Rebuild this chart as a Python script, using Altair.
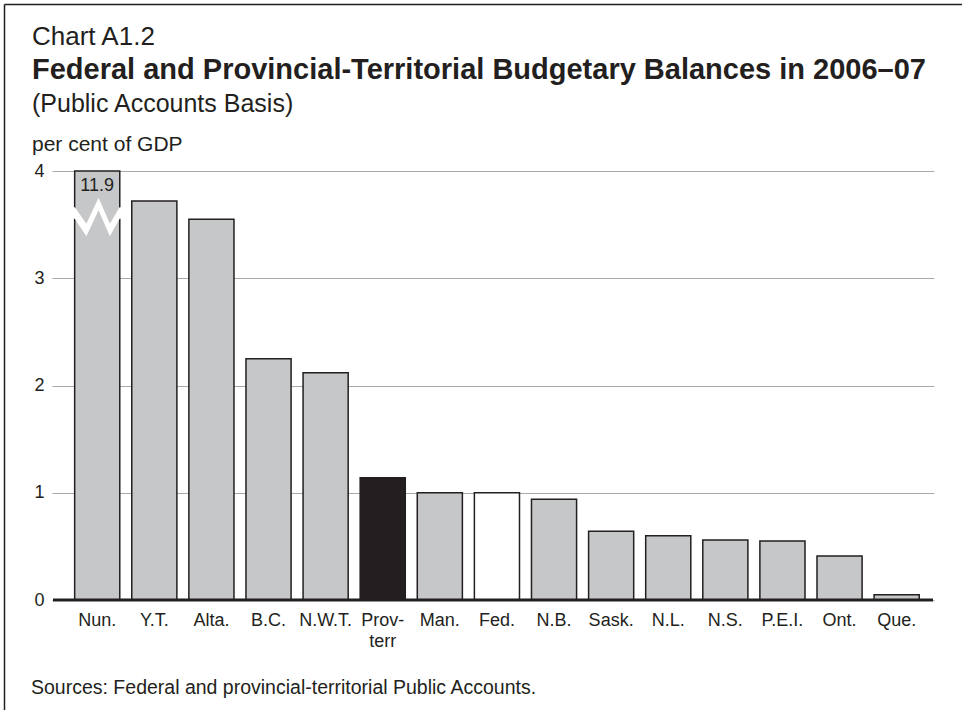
import altair as alt
import pandas as pd

# ---- data ----
categories = ["Nun.", "Y.T.", "Alta.", "B.C.", "N.W.T.", "Prov-terr", "Man.", "Fed.",
              "N.B.", "Sask.", "N.L.", "N.S.", "P.E.I.", "Ont.", "Que."]
balances = [11.9, 3.72, 3.55, 2.25, 2.12, 1.14, 1.00, 1.00, 0.94, 0.64, 0.60, 0.56, 0.55, 0.41, 0.05]
y_ticks = [0, 1, 2, 3, 4]
axis_max = 4
break_at = 3.57

chart_label = "Chart A1.2"
title_text = "Federal and Provincial-Territorial Budgetary Balances in 2006–07"
subtitle_text = "(Public Accounts Basis)"
y_title = "per cent of GDP"
source_text = "Sources: Federal and provincial-territorial Public Accounts."

# ---- style ----
FONT = "Liberation Sans"
INK = "#231f20"
GRAY = "#c6c7c9"
GRID = "#a7a9ac"
W, H = 882, 429
PAD = {"left": 52, "top": 171, "right": 28, "bottom": 110}

ZIG = ("M -1.12 -0.44 L -0.99 -0.44 L -0.48 0.29 L 0.06 -0.86 L 0.56 0.29 L 0.99 -0.44 "
       "L 1.12 -0.44 L 1.12 0.07 L 0.99 0.07 L 0.56 0.85 L 0.06 -0.30 L -0.48 0.85 "
       "L -0.99 0.07 L -1.12 0.07 Z")

df = pd.DataFrame({"cat": categories, "value": balances})
one = pd.DataFrame({"k": [0]})

base = alt.Chart(df).transform_calculate(
    shown=f"min(datum.value, {axis_max})",
    group="datum.cat === 'Prov-terr' ? 'prov' : (datum.cat === 'Fed.' ? 'fed' : 'other')",
)

x = alt.X(
    "cat:N", sort=categories, title=None,
    scale=alt.Scale(paddingInner=0.21, paddingOuter=0.328, align=0.605),
    axis=alt.Axis(labelAngle=0, ticks=False, domain=False, grid=False,
                  labelPadding=11, labelFontSize=18, labelFont=FONT, labelColor=INK,
                  labelLineHeight=21,
                  labelExpr="datum.label == 'Prov-terr' ? ['Prov-', 'terr'] : datum.label"),
)
y = alt.Y(
    "shown:Q", title=None,
    scale=alt.Scale(domain=[0, axis_max], nice=False),
    axis=alt.Axis(values=y_ticks, format="d", grid=True, gridColor=GRID, gridWidth=1.2,
                  domain=False, ticks=False, labelPadding=8, labelFontSize=18,
                  labelFont=FONT, labelColor=INK),
)

bars = base.mark_bar(stroke=INK, strokeWidth=1.5).encode(
    x=x, y=y,
    fill=alt.Fill("group:N",
                  scale=alt.Scale(domain=["other", "prov", "fed"], range=[GRAY, INK, "#ffffff"]),
                  legend=None),
)

brk = base.transform_filter(f"datum.value > {axis_max}").mark_point(
    shape=ZIG, filled=True, fill="white", strokeWidth=0, opacity=1, size=2043
).encode(x=x, y=alt.datum(break_at))

lbl = base.transform_filter(f"datum.value > {axis_max}").mark_text(
    font=FONT, fontSize=18, color=INK, baseline="alphabetic", dy=20
).encode(x=x, y=y, text=alt.Text("value:Q", format=".1f"))

zero = alt.Chart(one).mark_rule(color=INK, strokeWidth=3).encode(
    y=alt.datum(0), x=alt.value(1), x2=alt.value(881)
)


def label(txt, px, py, size, weight="normal"):
    return alt.Chart(pd.DataFrame({"t": [txt]})).mark_text(
        font=FONT, fontSize=size, fontWeight=weight, color=INK,
        align="left", baseline="alphabetic"
    ).encode(text="t:N", x=alt.value(px), y=alt.value(py))


texts = [
    label(chart_label, -20, 44.5 - 171, 26),
    label(title_text, -20, 79 - 171, 29, "bold"),
    label(subtitle_text, -20, 112 - 171, 25),
    label(y_title, -20, 151 - 171, 21),
    label(source_text, -21, 694 - 171, 19.5),
]

frame_top = alt.Chart(one).mark_rule(color=INK, strokeWidth=1.5).encode(
    x=alt.value(-47.5), x2=alt.value(910), y=alt.value(-166.5)
)
frame_left = alt.Chart(one).mark_rule(color=INK, strokeWidth=1.5).encode(
    x=alt.value(-47.5), y=alt.value(-166.5), y2=alt.value(539)
)

chart = alt.layer(bars, brk, lbl, zero, frame_top, frame_left, *texts).properties(
    width=W, height=H, padding=PAD,
    autosize=alt.AutoSizeParams(type="none"),
    background="white",
).configure_view(stroke=None)

chart.save("out.html", embed_options={"renderer": "svg", "actions": False})
